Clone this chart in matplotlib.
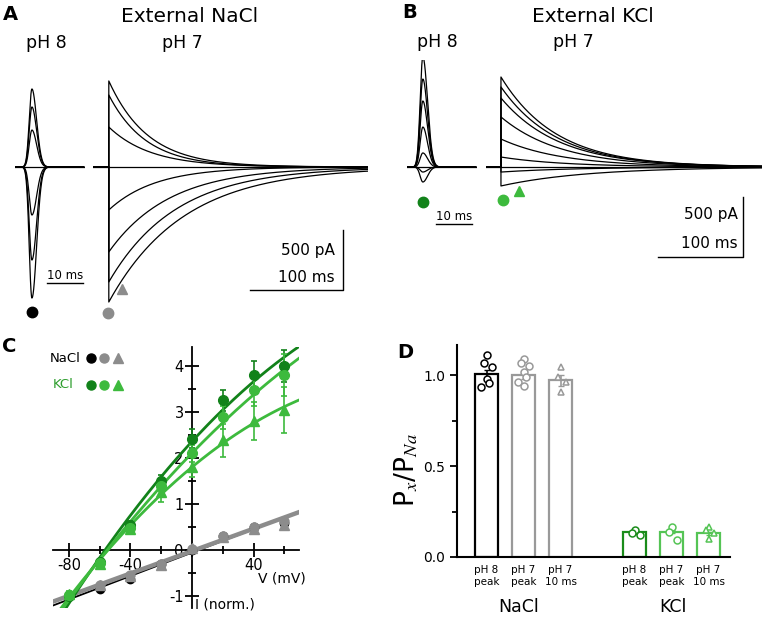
import numpy as np
import matplotlib

matplotlib.use("Agg")
import matplotlib.pyplot as plt  # noqa: E402

plt.rcParams["font.family"] = ["DejaVu Sans"]
plt.rcParams["mathtext.fontset"] = "stix"
plt.rcParams["axes.unicode_minus"] = False

W, H = 762, 618

# --- A/B: current traces, one entry per sweep (peak amplitude pA, decay tau ms)
A_PH8_PEAK_PA = [650, 500, 308, 0, -400, -775, -1092]
A_PH7_PEAK_PA = [717, 600, 333, 0, -358, -708, -958, -1125]
A_PH7_TAU_MS = [42, 40, 45, 40, 50, 65, 72, 80]
B_PH8_PEAK_PA = [917, 733, 550, 333, 117, 0, -42, -125]
B_PH7_PEAK_PA = [750, 667, 575, 417, 233, 83, 0, -42, -158]
B_PH7_TAU_MS = [65, 66, 68, 70, 72, 75, 70, 90, 100]

# --- C: I-V relations (normalised current)
NACL_V = [-60, -40, -20, 0, 20, 40, 60]
NACL_PH8_I = [-0.85, -0.62, -0.30, 0.00, 0.30, 0.50, 0.58]
NACL_PH7_PEAK_I = [-0.75, -0.55, -0.30, 0.02, 0.30, 0.50, 0.62]
NACL_PH7_10MS_I = [-0.76, -0.57, -0.32, 0.05, 0.28, 0.45, 0.55]
KCL_V = [-80, -60, -40, -20, 0, 20, 40, 60]
KCL_PH8_I = [-1.00, -0.25, 0.55, 1.50, 2.42, 3.25, 3.80, 4.00]
KCL_PH8_SEM = [0.05, 0.05, 0.08, 0.12, 0.20, 0.22, 0.30, 0.35]
KCL_PH7_PEAK_I = [-0.98, -0.28, 0.48, 1.40, 2.10, 2.88, 3.48, 3.80]
KCL_PH7_PEAK_SEM = [0.05, 0.05, 0.08, 0.12, 0.18, 0.25, 0.35, 0.45]
KCL_PH7_10MS_I = [-0.95, -0.30, 0.45, 1.25, 1.80, 2.38, 2.80, 3.05]
KCL_PH7_10MS_SEM = [0.05, 0.05, 0.08, 0.20, 0.22, 0.35, 0.42, 0.50]

# --- D: permeability ratios
D_LABELS = ["pH 8\npeak", "pH 7\npeak", "pH 7\n10 ms", "pH 8\npeak", "pH 7\npeak", "pH 7\n10 ms"]
D_MEAN = [1.005, 1.0, 0.97, 0.135, 0.14, 0.13]
D_SEM = [0.025, 0.02, 0.03, 0.008, 0.01, 0.01]
D_CELLS = [
    [1.11, 1.064, 1.042, 0.98, 0.954, 0.932],
    [1.09, 1.064, 1.05, 1.018, 0.99, 0.963, 0.94],
    [1.045, 0.99, 0.963, 0.908],
    [0.148, 0.13, 0.121],
    [0.167, 0.139, 0.093],
    [0.167, 0.148, 0.13, 0.10],
]

BLACK = "#000000"
GREY = "#8c8c8c"
DKGREEN = "#12821a"
GREEN = "#3dba3d"

fig = plt.figure(figsize=(W / 100, H / 100), dpi=100)


def px_axes(x0, y0, x1, y1):
    ax = fig.add_axes([x0 / W, 1 - y1 / H, (x1 - x0) / W, (y1 - y0) / H])
    ax.patch.set_alpha(0)
    return ax


# ---------------------------------------------------------------- traces
PX_PER_PA = 0.12
BASE_Y, TR_TOP, TR_BOT = 167, 60, 330


def trace_axes(x0, x1, px_per_ms):
    ax = px_axes(x0, TR_TOP, x1, TR_BOT)
    ax.set_xlim(0, (x1 - x0) / px_per_ms)
    ax.set_ylim(-(TR_BOT - BASE_Y) / PX_PER_PA, (BASE_Y - TR_TOP) / PX_PER_PA)
    ax.axis("off")
    return ax


def draw_transients(ax, peaks, t_peak):
    t = np.linspace(0, ax.get_xlim()[1] * 0.98, 600)
    sig = np.where(t < t_peak, 0.75, 1.3)
    for a in peaks:
        ax.plot(t, a * np.exp(-0.5 * ((t - t_peak) / sig) ** 2), color="k", lw=0.9)


def draw_decays(ax, peaks, taus, t0):
    tmax = ax.get_xlim()[1]
    tt = np.linspace(0, tmax - t0, 700)
    for a, tau in zip(peaks, taus):
        t = np.concatenate([[0, t0], t0 + tt])
        i = np.concatenate([[0, 0], a * np.exp(-tt / tau)])
        ax.plot(t, i, color="k", lw=0.9)


def scale_bar(ax, x_right, y_bottom, pa_text_y, ms_text_y, text_x):
    ax.plot([x_right - 100, x_right, x_right], [y_bottom, y_bottom, y_bottom + 500],
            color="k", lw=1.0, clip_on=False)
    ax.text(text_x, pa_text_y, "500 pA", ha="right", va="center", fontsize=11)
    ax.text(text_x, ms_text_y, "100 ms", ha="right", va="center", fontsize=11)


def ms_bar(ax, x0, y):
    ax.plot([x0, x0 + 10], [y, y], color="k", lw=1.0, clip_on=False)
    ax.text(x0 + 5, y + 10, "10 ms", ha="center", va="bottom", fontsize=8.5)


# A, pH 8
axa8 = trace_axes(15, 85, 3.6)
draw_transients(axa8, A_PH8_PEAK_PA, 4.7)
ms_bar(axa8, 8.9, -(283 - BASE_Y) / PX_PER_PA)
axa8.plot(4.7, min(A_PH8_PEAK_PA) - 118, "o", color=BLACK, ms=7.5, clip_on=False)

# A, pH 7
axa7 = trace_axes(93, 368, 0.93)
t0_a = 17.0
draw_decays(axa7, A_PH7_PEAK_PA, A_PH7_TAU_MS, t0_a)
scale_bar(axa7, 268.8, -(290 - BASE_Y) / PX_PER_PA, -(250 - BASE_Y) / PX_PER_PA,
          -(277 - BASE_Y) / PX_PER_PA, 260)
axa7.plot(t0_a - 0.5, min(A_PH7_PEAK_PA) - 95, "o", color=GREY, ms=7.5, clip_on=False)
i14 = min(A_PH7_PEAK_PA) * np.exp(-14 / A_PH7_TAU_MS[-1])
axa7.plot(t0_a + 14, i14 - 75, "^", color=GREY, ms=6.5, clip_on=False)

# B, pH 8
axb8 = trace_axes(407, 477, 3.6)
draw_transients(axb8, B_PH8_PEAK_PA, 4.4)
ms_bar(axb8, 8.06, -(224 - BASE_Y) / PX_PER_PA)
axb8.plot(4.4, min(B_PH8_PEAK_PA) - 165, "o", color=DKGREEN, ms=7.5, clip_on=False)

# B, pH 7
axb7 = trace_axes(486, 762, 0.85)
t0_b = 17.6
draw_decays(axb7, B_PH7_PEAK_PA, B_PH7_TAU_MS, t0_b)
scale_bar(axb7, 302.4, -(257 - BASE_Y) / PX_PER_PA, -(215 - BASE_Y) / PX_PER_PA,
          -(244 - BASE_Y) / PX_PER_PA, 296)
axb7.plot(t0_b + 2.4, min(B_PH7_PEAK_PA) - 117, "o", color=GREEN, ms=7.5, clip_on=False)
axb7.plot(t0_b + 21, min(B_PH7_PEAK_PA) - 40, "^", color=GREEN, ms=6.5, clip_on=False)

# ---------------------------------------------------------------- C: I-V
axc = px_axes(53, 347, 299, 608)
axc.set_xlim(-90.3, 69.5)
axc.set_ylim(-1.26, 4.41)
for s in ("top", "right"):
    axc.spines[s].set_visible(False)
for s in ("left", "bottom"):
    axc.spines[s].set_position(("data", 0))
    axc.spines[s].set_linewidth(1.3)
axc.set_xticks([-80, -40, 0, 40])
axc.set_xticklabels(["-80", "-40", "", "40"])
axc.set_xticks([-60, -20, 20, 60], minor=True)
axc.set_yticks([-1, 0, 1, 2, 3, 4])
axc.set_yticks([-0.5, 0.5, 1.5, 2.5, 3.5], minor=True)
axc.tick_params(which="major", direction="inout", length=10, width=1.3, labelsize=10.5, pad=1)
axc.tick_params(which="minor", direction="inout", length=6, width=1.3)

vfit = np.linspace(-90.3, 69.5, 200)
for v, i, col, lw, z in [(NACL_V, NACL_PH8_I, BLACK, 1.3, 2),
                         (NACL_V, NACL_PH7_PEAK_I, GREY, 3.2, 3)]:
    axc.plot(vfit, np.polyval(np.polyfit(v, i, 1), vfit), color=col, lw=lw, zorder=z)
for i, col in [(KCL_PH8_I, DKGREEN), (KCL_PH7_PEAK_I, GREEN), (KCL_PH7_10MS_I, GREEN)]:
    axc.plot(vfit, np.polyval(np.polyfit(KCL_V, i, 2), vfit), color=col, lw=2, zorder=3)

axc.plot(NACL_V, NACL_PH8_I, "o", color=BLACK, ms=6, zorder=4)
axc.plot(NACL_V, NACL_PH7_PEAK_I, "o", color=GREY, ms=6.5, zorder=4)
axc.plot(NACL_V, NACL_PH7_10MS_I, "^", color=GREY, ms=6.5, zorder=4)
for i, e, col, mk in [(KCL_PH8_I, KCL_PH8_SEM, DKGREEN, "o"),
                      (KCL_PH7_PEAK_I, KCL_PH7_PEAK_SEM, GREEN, "o"),
                      (KCL_PH7_10MS_I, KCL_PH7_10MS_SEM, GREEN, "^")]:
    axc.errorbar(KCL_V, i, yerr=e, fmt=mk, color=col, ms=7, elinewidth=1.2,
                 capsize=2.5, capthick=1.2, zorder=5)

# ---------------------------------------------------------------- D: bars
D_POS = [0, 1, 2, 4, 5, 6]
D_EDGE = [BLACK, "#999999", "#999999", "#1a8c1a", "#55c455", "#55c455"]
D_MARK = ["o", "o", "^", "o", "o", "^"]
axd = px_axes(457, 345, 730, 557)
axd.set_xlim(-0.8, 6.58)
axd.set_ylim(0, 1.165)
axd.bar(D_POS, D_MEAN, width=0.63, facecolor="white", edgecolor=D_EDGE, linewidth=1.6, zorder=2)
for x, m, e, col, cells, mk in zip(D_POS, D_MEAN, D_SEM, D_EDGE, D_CELLS, D_MARK):
    axd.errorbar(x, m, yerr=e, fmt="none", ecolor=col, elinewidth=1.2, capsize=2.5, zorder=3)
    off = [(-1) ** k * 0.07 * (k % 3) for k in range(len(cells))]
    axd.plot(np.add(x, off), cells, mk, ms=5, mfc="white", mec=col, mew=1.1, ls="none", zorder=4)
for s in ("top", "right"):
    axd.spines[s].set_visible(False)
for s in ("left", "bottom"):
    axd.spines[s].set_linewidth(1.5)
axd.set_xticks(D_POS)
axd.set_xticklabels(D_LABELS, fontsize=7.5, linespacing=1.25)
axd.tick_params(axis="x", length=0, pad=6)
axd.set_yticks([0, 0.5, 1.0])
axd.set_yticklabels(["0.0", "0.5", "1.0"])
axd.set_yticks([0.25, 0.75], minor=True)
axd.tick_params(axis="y", which="major", direction="out", length=5, width=1.3, labelsize=10)
axd.tick_params(axis="y", which="minor", direction="out", length=3.5, width=1.3)

# ---------------------------------------------------------------- overlay text
ov = px_axes(0, 0, W, H)
ov.set_xlim(0, W)
ov.set_ylim(H, 0)
ov.axis("off")


def txt(x, y, s, size, **kw):
    kw.setdefault("ha", "center")
    kw.setdefault("va", "center")
    ov.text(x, y, s, fontsize=size, **kw)


txt(3, 14, "A", 14, ha="left", fontweight="bold")
txt(190, 17, "External NaCl", 14.5)
txt(46, 43, "pH 8", 12.5)
txt(182, 43, "pH 7", 12.5)
txt(402, 12, "B", 14, ha="left", fontweight="bold")
txt(593, 16, "External KCl", 14.5)
txt(437, 42, "pH 8", 12.5)
txt(573, 42, "pH 7", 12.5)

txt(2, 346, "C", 14, ha="left", fontweight="bold")
txt(50, 358, "NaCl", 9.5, ha="left")
txt(53, 385, "KCl", 9.5, ha="left", color="#2e9e2e")
for x, mk, col in [(91, "o", BLACK), (104, "o", GREY), (118, "^", GREY)]:
    ov.plot(x, 358, mk, color=col, ms=6.5)
for x, mk, col in [(91, "o", DKGREEN), (104, "o", GREEN), (118, "^", GREEN)]:
    ov.plot(x, 385, mk, color=col, ms=6.5)
txt(282, 578, "V (mV)", 10)
txt(225, 605, "I (norm.)", 10)

txt(397, 353, "D", 14, ha="left", fontweight="bold")
txt(407, 470, r"P$_{x}$/P$_{Na}$", 19, rotation=90)
txt(519, 607, "NaCl", 12.5)
txt(673, 607, "KCl", 12.5)

fig.savefig("out.png", dpi=100)
